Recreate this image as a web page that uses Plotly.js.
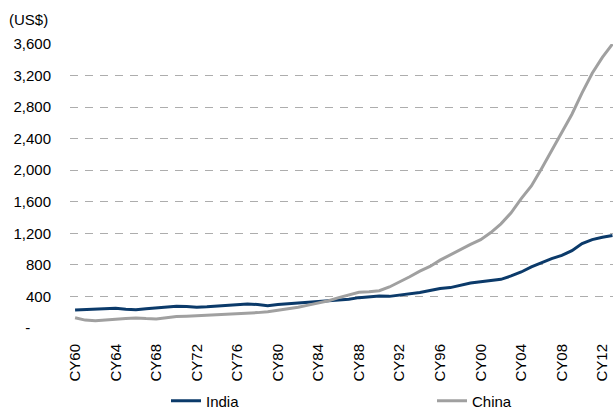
<!DOCTYPE html>
<html><head><meta charset="utf-8">
<script src="https://cdn.plot.ly/plotly-3.0.1.min.js"></script>
<style>html,body{margin:0;padding:0;background:#fff;}#chart{width:613px;height:410px;}</style>
</head><body><div id="chart"></div>
<script>
const years = [];
for (let y = 1960; y <= 2013; y++) years.push(y);
const india = [228,232,235,245,250,238,230,245,255,265,275,272,262,268,275,285,290,304,298,283,
  298,308,315,325,333,342,352,365,385,398,405,401,415,430,450,475,500,512,545,570,
  587,600,617,660,710,775,830,880,920,980,1070,1120,1150,1172];
const china = [131,100,92,98,110,120,128,120,115,130,145,150,156,160,165,172,177,185,195,207,
  225,240,262,290,320,345,385,420,452,460,473,520,580,650,720,780,860,930,990,1060,
  1120,1210,1320,1460,1640,1800,2020,2250,2470,2710,2980,3230,3430,3600];
const tickVals = [1960,1964,1968,1972,1976,1980,1984,1988,1992,1996,2000,2004,2008,2012];
const tickText = ["CY60","CY64","CY68","CY72","CY76","CY80","CY84","CY88","CY92","CY96","CY00","CY04","CY08","CY12"];
const yVals = [0,400,800,1200,1600,2000,2400,2800,3200,3600];
const yText = ["-\u00a0\u00a0\u00a0\u00a0\u00a0","400","800","1,200","1,600","2,000","2,400","2,800","3,200","3,600"];

const F = {family: '"Liberation Sans", Arial, sans-serif', size: 15, color: '#000'};
const L = 70, W = 543, T = 44, H = 284;
const px = x => (x - L) / W;
const py = y => (T + H - y) / H;

const data = [
  {x: years, y: india, name: 'India', type: 'scatter', mode: 'lines',
   line: {color: '#0B3A6A', width: 3}, legend: 'legend'},
  {x: years, y: china, name: 'China', type: 'scatter', mode: 'lines',
   line: {color: '#A0A0A0', width: 3}, legend: 'legend2'}
];
const layout = {
  width: 613, height: 410,
  margin: {l: L, r: 0, t: T, b: 410 - T - H, pad: 0, autoexpand: false},
  paper_bgcolor: '#fff', plot_bgcolor: '#fff',
  font: F,
  xaxis: {range: [1959.5, 2013.05], tickmode: 'array', tickvals: tickVals, ticktext: tickText,
    tickangle: -90, showgrid: false, zeroline: false, showline: false, ticks: '',
    ticklabelstandoff: 12, tickfont: F, automargin: false},
  yaxis: {range: [0, 3600], tickmode: 'array', tickvals: yVals, ticktext: yText,
    showgrid: true, gridcolor: '#ADADAD', gridwidth: 1, griddash: '8px,7px',
    zeroline: false, showline: false, ticks: '', ticklabelstandoff: 18, tickfont: F, automargin: false},
  showlegend: true,
  legend: {x: px(166), y: py(401), xanchor: 'left', yanchor: 'middle', orientation: 'h',
    font: F, bgcolor: 'rgba(0,0,0,0)'},
  legend2: {x: px(432), y: py(401), xanchor: 'left', yanchor: 'middle', orientation: 'h',
    font: F, bgcolor: 'rgba(0,0,0,0)'},
  annotations: [{text: '(US$)', xref: 'paper', yref: 'paper', x: px(7), y: py(19),
    xanchor: 'left', yanchor: 'middle', showarrow: false, font: F}]
};
Plotly.newPlot('chart', data, layout, {displayModeBar: false, staticPlot: true});
</script></body></html>
